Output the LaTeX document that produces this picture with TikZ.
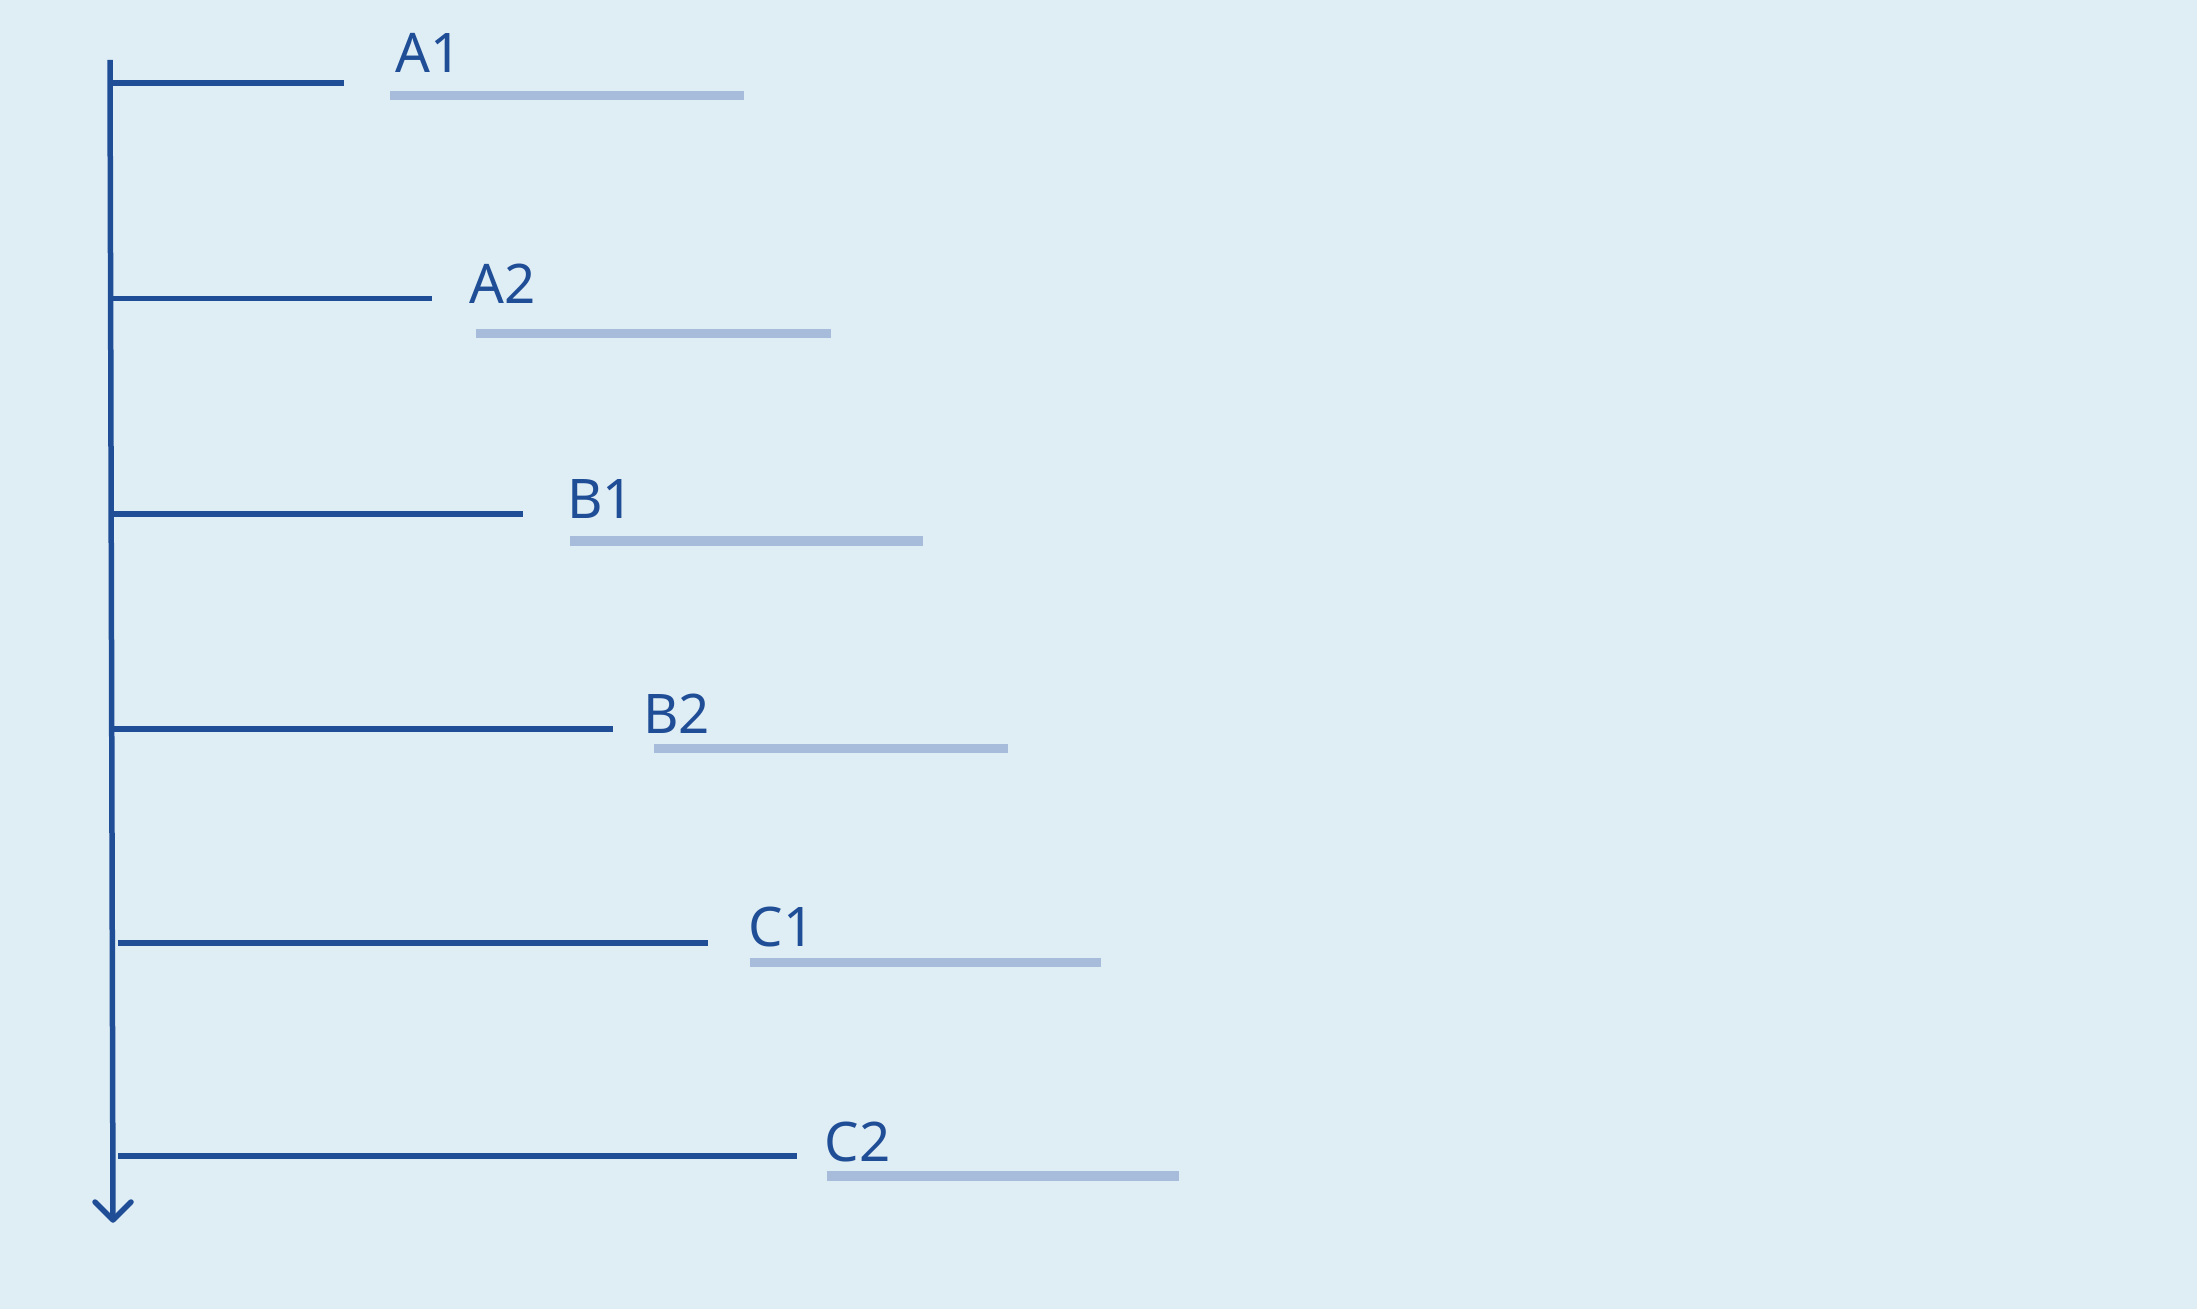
\documentclass[tikz,border=0pt]{standalone}
\usepackage{fontspec}
\setmainfont{Noto Sans}
\usetikzlibrary{calc}
\definecolor{bgc}{HTML}{DFEDF5}
\definecolor{darkc}{HTML}{1F4E96}
\definecolor{barc}{HTML}{A7BCDB}
\begin{document}
\begin{tikzpicture}[x=0.5pt,y=-0.5pt,
  axisline/.style={draw=darkc,line width=2.75pt},
  tickline/.style={draw=darkc,line width=2.65pt},
  barline/.style={draw=barc,line width=4.8pt},
  lbl/.style={anchor=base west,inner sep=0pt,text=darkc,font=\fontsize{27.3pt}{32pt}\selectfont}]
\fill[bgc] (0,0) rectangle (2197,1309);
\useasboundingbox (0,0) rectangle (2197,1309);
% axis
\coordinate (top) at (110,60);
\coordinate (tip) at (113,1220);
\draw[axisline] (top) -- (tip);
\draw[axisline,line cap=round,line join=round] ($(tip)+(-18,-18)$) -- (tip) -- ($(tip)+(18,-18)$);
% ticks
\coordinate (a1s) at (110,83);    \coordinate (a1e) at (344,83);
\coordinate (a2s) at (111,298.5); \coordinate (a2e) at (431.5,298.5);
\coordinate (b1s) at (112,514);   \coordinate (b1e) at (522.6,514);
\coordinate (b2s) at (112,729);   \coordinate (b2e) at (612.7,729);
\coordinate (c1s) at (117.7,943); \coordinate (c1e) at (707.6,943);
\coordinate (c2s) at (118,1156);  \coordinate (c2e) at (797.3,1156);
\foreach \n in {a1,a2,b1,b2,c1,c2} {\draw[tickline] (\n s) -- (\n e);}
% bars
\coordinate (a1l) at (390,95.5);    \coordinate (a1r) at (744,95.5);
\coordinate (a2l) at (476.4,333.5); \coordinate (a2r) at (830.9,333.5);
\coordinate (b1l) at (570.2,540.8); \coordinate (b1r) at (923.3,540.8);
\coordinate (b2l) at (654.3,748.7); \coordinate (b2r) at (1008,748.7);
\coordinate (c1l) at (749.6,962.5); \coordinate (c1r) at (1101.3,962.5);
\coordinate (c2l) at (826.7,1175.8);\coordinate (c2r) at (1179,1175.8);
\foreach \n in {a1,a2,b1,b2,c1,c2} {\draw[barline] (\n l) -- (\n r);}
% labels
\node[lbl] (tA1) at (395,73) {A1};
\node[lbl] (tA2) at (469,304) {A2};
\node[lbl] (tB1) at (567,518.4) {B1};
\node[lbl] (tB2) at (643,733.5) {B2};
\node[lbl] (tC1) at (748.5,947) {C1};
\node[lbl] (tC2) at (824.5,1161) {C2};
\end{tikzpicture}
\end{document}
